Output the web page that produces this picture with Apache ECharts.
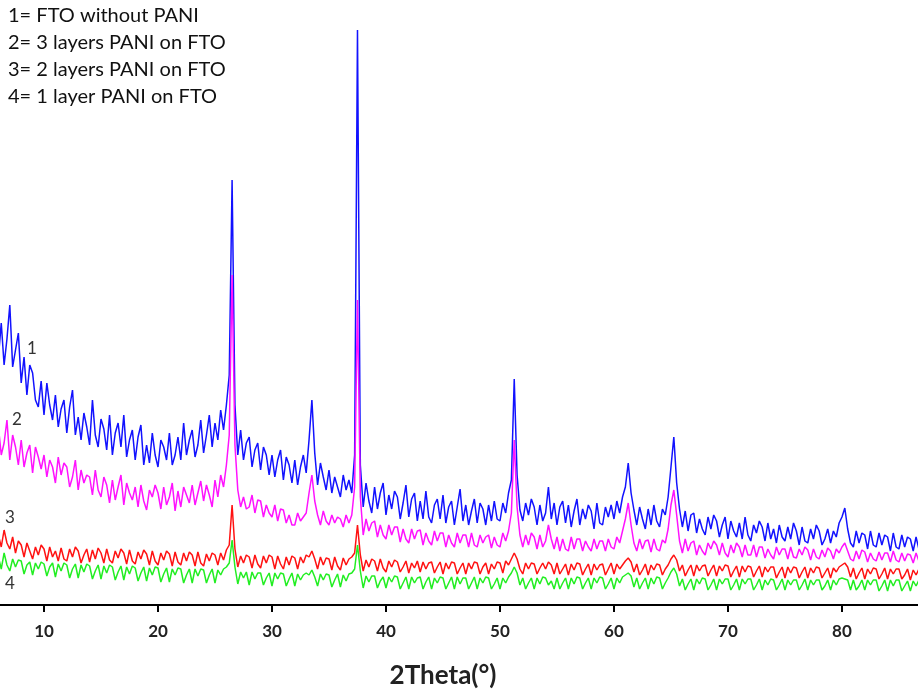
<!DOCTYPE html>
<html>
<head>
<meta charset="utf-8">
<script src="https://cdn.jsdelivr.net/npm/echarts@6/dist/echarts.min.js"></script>
<style>
html,body{margin:0;padding:0;background:#fff;}
#chart{width:918px;height:694px;}
</style>
</head>
<body>
<div id="chart"></div>
<script>
// 2Theta sampling grid (degrees): start + i*step
const twoThetaStart = 6.0;
const twoThetaStep = 0.25;
const tickLabels = [10, 20, 30, 40, 50, 60, 70, 80];
const legendLines = ['1= FTO without PANI', '2= 3 layers PANI on FTO', '3= 2 layers PANI on FTO', '4= 1 layer PANI on FTO'];
const curveNames = ['1', '2', '3', '4'];

// Intensities (arbitrary units), 4 samples per degree, 6.00 .. 86.75
const fto = [
248,282,240,266, 300,238,255,272, 222,248,210,240, 232,205,198,224, 190,222,200,185,
210,178,196,205, 172,198,215,170, 188,165,192,178, 160,205,170,158, 186,176,155,190,
150,172,182,158, 190,148,165,175, 145,168,180,140, 160,142,172,150, 138,165,158,145,
172,140,150,168, 145,182,150,165, 175,148,160,185, 152,170,190,158, 182,165,195,175,
200,230,425,200, 150,175,145,162, 168,138,155,162, 135,158,150,130, 150,128,145,155,
125,148,140,122, 145,120,138,150, 132,165,205,152, 120,142,128,115, 135,112,128,118,
108,130,115,125, 112,150,575,140, 98,122,104,92, 118,96,112,122, 90,110,96,114,
108,86,102,120, 88,106,112,84, 104,86,114,88, 82,100,106,86, 110,82,98,104,
80,98,116,84, 100,80,94,106, 82,102,96,80, 100,84,104,86, 84,102,92,112,
125,226,130,95, 84,102,90,106, 98,80,100,84, 92,118,86,102, 80,98,104,82,
100,78,94,106, 80,96,86,100, 94,76,102,82, 80,98,88,100, 86,104,92,108,
118,142,112,95, 80,98,86,76, 96,80,100,84, 78,96,90,108, 138,168,122,96,
78,94,74,90, 92,72,86,76, 70,88,76,90, 84,68,80,88, 66,84,74,68,
82,66,88,70, 64,80,72,84, 78,64,82,66, 76,62,80,68, 64,78,66,82,
74,60,78,64, 62,76,66,80, 74,60,66,76, 62,74,68,82, 88,97,76,62,
58,74,62,72, 70,56,74,60, 58,72,60,70, 68,54,72,58, 56,70,58,68,
66,54,68,56
];

const pani3 = [
178,150,162,185, 145,170,158,140, 165,138,152,160, 132,158,148,136, 150,128,145,138,
122,148,130,142, 138,118,128,145, 115,135,122,130, 128,110,135,115, 108,128,120,102,
125,105,118,130, 100,122,112,105, 118,98,120,104, 95,115,108,120, 112,96,118,100,
108,122,94,114, 98,118,110,102, 120,100,112,124, 104,120,110,98, 125,108,130,118,
140,170,330,160, 115,98,108,96, 98,110,92,105, 104,88,100,92, 88,100,84,96,
95,82,90,80, 80,92,84,88, 92,112,130,104, 90,80,94,84, 80,90,82,88,
86,78,90,82, 90,118,305,108, 70,86,74,82, 84,68,80,70, 66,80,70,78,
78,63,76,66, 62,76,66,74, 75,60,72,64, 60,74,64,72, 72,58,70,62,
58,72,62,70, 70,58,72,60, 58,70,62,68, 70,57,68,60, 58,72,64,74,
92,165,98,70, 58,70,60,72, 68,56,70,58, 64,80,66,56, 68,54,66,56,
54,68,56,66, 66,54,64,58, 54,66,56,64, 64,54,66,58, 56,68,62,74,
86,102,80,62, 54,66,56,64, 65,53,66,56, 54,65,62,76, 100,115,90,64,
52,66,54,62, 64,50,60,54, 50,62,56,64, 60,50,62,52, 48,60,52,62,
58,48,60,50, 50,60,48,58, 58,47,56,50, 46,58,50,56, 56,46,58,48,
47,56,50,58, 55,45,56,48, 46,55,48,57, 54,46,56,52, 58,62,54,46,
44,54,46,55, 53,43,52,46, 44,53,45,52, 52,43,54,45, 43,52,44,51,
50,42,52,44
];

const pani2 = [
70,58,75,62, 56,68,52,64, 60,48,62,54, 46,58,50,60, 56,44,58,48,
54,44,57,46, 44,56,48,58, 54,42,50,56, 43,55,46,57, 52,42,56,45,
42,54,47,56, 52,41,55,44, 41,53,46,55, 51,40,54,44, 40,52,45,54,
51,39,53,43, 40,52,44,53, 50,39,53,42, 39,51,44,52, 50,40,52,45,
55,60,100,56, 38,49,42,50, 48,37,50,41, 37,49,42,50, 48,36,49,41,
36,48,40,49, 47,36,48,42, 50,48,54,46, 36,48,40,47, 46,35,48,39,
35,47,40,46, 48,52,80,50, 34,45,38,46, 44,34,46,37, 33,44,38,45,
43,33,38,44, 32,42,37,44, 33,43,36,42, 43,32,38,43, 31,42,36,43,
42,31,37,42, 31,42,36,43, 42,31,38,42, 31,41,36,43, 42,32,44,40,
46,52,46,36, 31,42,36,42, 41,31,37,42, 36,43,40,31, 42,31,36,41,
30,41,35,42, 41,30,36,41, 30,41,35,40, 41,30,36,42, 31,41,36,40,
44,47,43,33, 41,30,35,41, 30,40,35,41, 40,30,36,40, 46,50,45,34,
40,29,35,40, 29,40,34,39, 40,29,35,40, 29,39,34,40, 39,28,34,39,
28,39,33,39, 38,28,34,39, 28,38,33,38, 38,27,33,38, 27,38,32,38,
37,27,33,38, 27,37,32,38, 37,27,32,37, 27,37,33,38, 40,42,38,28,
37,26,32,37, 26,36,31,37, 36,26,31,37, 26,36,31,36, 36,26,30,36,
25,35,30,36
];

const pani1 = [
48,36,52,40, 34,46,38,45, 44,31,40,43, 30,42,36,43, 41,29,38,42,
28,41,34,42, 40,27,36,41, 27,40,33,41, 39,26,34,40, 26,39,32,40,
38,25,33,39, 25,38,31,39, 37,24,32,38, 24,37,30,38, 37,23,31,37,
23,36,30,37, 36,22,30,36, 22,36,29,36, 35,22,30,36, 22,35,30,36,
38,42,65,38, 21,33,27,33, 20,33,26,32, 32,20,27,32, 19,32,26,32,
31,19,26,32, 19,31,25,30, 32,30,35,28, 19,31,25,31, 30,18,25,31,
18,30,24,31, 32,36,60,34, 17,29,23,29, 29,17,24,28, 17,28,23,29,
28,16,22,28, 16,28,22,27, 28,16,23,28, 16,27,22,28, 27,16,22,28,
16,28,21,27, 27,16,22,28, 16,27,22,28, 27,16,21,27, 16,27,22,28,
32,38,32,20, 27,16,22,27, 16,27,21,28, 27,20,24,16, 27,16,22,27,
16,27,21,28, 27,16,22,27, 16,27,22,28, 27,16,21,27, 16,27,22,28,
30,32,29,18, 27,16,22,27, 16,27,21,28, 27,16,22,27, 33,37,31,19,
26,15,21,26, 15,26,21,27, 26,15,20,26, 15,26,21,26, 26,15,20,26,
15,26,21,26, 26,15,20,26, 15,25,20,26, 25,15,20,26, 15,25,20,25,
25,15,20,26, 15,25,20,25, 25,15,19,25, 15,25,20,26, 27,26,25,15,
25,15,19,25, 15,25,20,25, 25,14,19,25, 14,25,19,25, 25,14,19,24,
14,24,19,25
];

const seriesValues = [fto, pani3, pani2, pani1];
const seriesColors = ['#1212ff', '#ff12ff', '#ff1212', '#22ee22'];

function toPairs(arr) {
  return arr.map((v, i) => [twoThetaStart + i * twoThetaStep, v]);
}

const chart = echarts.init(document.getElementById('chart'), null, {renderer: 'canvas'});
const option = {
  animation: false,
  backgroundColor: '#ffffff',
  title: {
    text: legendLines.join('\n'),
    left: 8, top: 2, padding: 0,
    textStyle: {fontFamily: 'Lato', fontSize: 20, fontWeight: 'normal', color: '#111', lineHeight: 27}
  },
  grid: {left: 0, right: 0, top: 0, bottom: 89, containLabel: false},
  xAxis: {
    type: 'value', min: 6.14, max: 86.67,
    name: '2Theta(°)', nameLocation: 'middle', nameGap: 58,
    nameTextStyle: {fontFamily: 'Lato', fontSize: 26, fontWeight: 'bold', color: '#222', padding: [0, 32, 0, 0]},
    axisLine: {show: true, onZero: false, lineStyle: {color: '#000', width: 2}},
    axisTick: {show: true, inside: false, length: 7, lineStyle: {color: '#000', width: 2}, customValues: tickLabels},
    axisLabel: {show: true, margin: 18, fontFamily: 'Lato', fontSize: 17, fontWeight: 'bold', color: '#222', customValues: tickLabels},
    splitLine: {show: false}
  },
  yAxis: {type: 'value', min: 0, max: 605, show: false, splitLine: {show: false}},
  graphic: [
    {type: 'text', left: 27, top: 340, style: {text: curveNames[0], fontFamily: 'Lato', fontSize: 17, fill: '#333'}},
    {type: 'text', left: 12, top: 411, style: {text: curveNames[1], fontFamily: 'Lato', fontSize: 17, fill: '#333'}},
    {type: 'text', left: 5, top: 509, style: {text: curveNames[2], fontFamily: 'Lato', fontSize: 17, fill: '#333'}},
    {type: 'text', left: 5, top: 575, style: {text: curveNames[3], fontFamily: 'Lato', fontSize: 17, fill: '#333'}}
  ],
  series: seriesValues.map((vals, k) => ({
    name: curveNames[k],
    type: 'line',
    data: toPairs(vals),
    showSymbol: false,
    symbol: 'none',
    sampling: null,
    clip: true,
    z: 2 + k,
    lineStyle: {color: seriesColors[k], width: 1.5},
    emphasis: {disabled: true}
  }))
};
chart.setOption(option);
</script>
</body>
</html>
